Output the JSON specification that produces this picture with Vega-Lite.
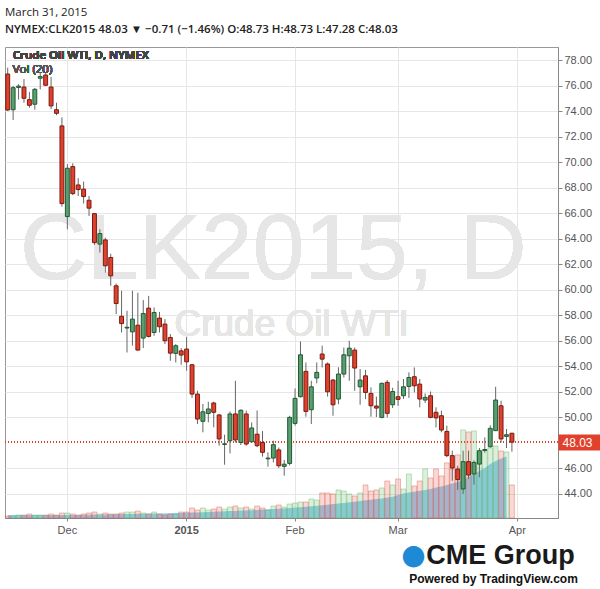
{
  "$schema": "https://vega.github.io/schema/vega-lite/v6.json",
  "autosize": "none",
  "width": 553,
  "height": 471,
  "padding": {"left": 5, "top": 47, "right": 42, "bottom": 71},
  "background": "white",
  "config": {
    "view": {"stroke": "#999", "strokeWidth": 1},
    "font": "Liberation Sans"
  },
  "title": {
    "text": "March 31, 2015",
    "subtitle": "NYMEX:CLK2015 48.03 ▼ −0.71 (−1.46%) O:48.73 H:48.73 L:47.28 C:48.03",
    "anchor": "start",
    "frame": "group",
    "font": "Open Sans",
    "fontSize": 11.5,
    "fontWeight": "normal",
    "color": "#222",
    "subtitleFont": "Open Sans",
    "subtitleFontSize": 11.5,
    "subtitleFontWeight": 600,
    "subtitleColor": "#222",
    "subtitlePadding": 5,
    "offset": 12
  },
  "data": {
    "values": [
      {"d":"2014-11-13","o":76.90,"h":77.40,"l":74.00,"c":74.08,"v":680,"ma":1020},
      {"d":"2014-11-14","o":74.10,"h":75.96,"l":73.30,"c":75.83,"v":680,"ma":1020},
      {"d":"2014-11-17","o":75.85,"h":76.10,"l":74.90,"c":75.95,"v":1020,"ma":1020},
      {"d":"2014-11-18","o":75.88,"h":76.50,"l":74.65,"c":75.00,"v":1020,"ma":1020},
      {"d":"2014-11-19","o":74.89,"h":75.50,"l":74.26,"c":74.45,"v":1360,"ma":1020},
      {"d":"2014-11-20","o":74.53,"h":75.80,"l":74.10,"c":75.70,"v":1020,"ma":1020},
      {"d":"2014-11-21","o":76.57,"h":77.00,"l":75.70,"c":76.70,"v":1020,"ma":1020},
      {"d":"2014-11-24","o":76.82,"h":77.05,"l":75.95,"c":76.02,"v":1020,"ma":1020},
      {"d":"2014-11-25","o":75.88,"h":76.67,"l":74.14,"c":74.40,"v":1360,"ma":1020},
      {"d":"2014-11-26","o":74.10,"h":74.65,"l":73.67,"c":73.82,"v":1020,"ma":1020},
      {"d":"2014-11-28","o":72.83,"h":73.50,"l":66.50,"c":66.74,"v":1700,"ma":1020},
      {"d":"2014-12-01","o":65.72,"h":69.83,"l":64.73,"c":69.51,"v":1700,"ma":1020},
      {"d":"2014-12-02","o":69.64,"h":69.90,"l":67.40,"c":67.52,"v":1360,"ma":1020},
      {"d":"2014-12-03","o":68.20,"h":68.73,"l":67.34,"c":67.84,"v":1020,"ma":1020},
      {"d":"2014-12-04","o":67.87,"h":68.46,"l":66.74,"c":67.29,"v":1360,"ma":1088},
      {"d":"2014-12-05","o":67.00,"h":67.34,"l":65.77,"c":66.38,"v":1700,"ma":1122},
      {"d":"2014-12-08","o":65.95,"h":66.00,"l":63.50,"c":63.68,"v":2040,"ma":1156},
      {"d":"2014-12-09","o":63.56,"h":64.73,"l":62.90,"c":64.39,"v":1360,"ma":1190},
      {"d":"2014-12-10","o":63.89,"h":64.07,"l":61.33,"c":61.86,"v":1700,"ma":1224},
      {"d":"2014-12-11","o":62.51,"h":62.80,"l":60.29,"c":61.07,"v":1360,"ma":1258},
      {"d":"2014-12-12","o":60.29,"h":60.47,"l":58.07,"c":58.90,"v":1360,"ma":1292},
      {"d":"2014-12-15","o":57.90,"h":59.90,"l":56.63,"c":57.33,"v":1700,"ma":1360},
      {"d":"2014-12-16","o":56.98,"h":58.33,"l":55.06,"c":57.04,"v":2040,"ma":1360},
      {"d":"2014-12-17","o":56.68,"h":59.90,"l":55.60,"c":57.68,"v":2040,"ma":1394},
      {"d":"2014-12-18","o":57.20,"h":59.75,"l":55.20,"c":55.25,"v":2380,"ma":1428},
      {"d":"2014-12-19","o":56.19,"h":59.17,"l":55.41,"c":58.12,"v":1700,"ma":1462},
      {"d":"2014-12-22","o":58.54,"h":59.50,"l":56.24,"c":56.32,"v":1360,"ma":1496},
      {"d":"2014-12-23","o":56.63,"h":58.59,"l":56.37,"c":58.20,"v":2040,"ma":1530},
      {"d":"2014-12-24","o":57.76,"h":58.24,"l":56.63,"c":57.08,"v":1360,"ma":1564},
      {"d":"2014-12-26","o":57.29,"h":57.68,"l":55.72,"c":55.98,"v":1020,"ma":1598},
      {"d":"2014-12-29","o":56.24,"h":56.50,"l":54.41,"c":55.01,"v":1360,"ma":1632},
      {"d":"2014-12-30","o":54.99,"h":55.72,"l":54.28,"c":55.59,"v":1360,"ma":1666},
      {"d":"2014-12-31","o":55.19,"h":55.41,"l":54.10,"c":54.86,"v":2040,"ma":1700},
      {"d":"2015-01-02","o":55.33,"h":56.29,"l":53.63,"c":54.33,"v":2040,"ma":1768},
      {"d":"2015-01-05","o":54.10,"h":54.15,"l":51.50,"c":51.80,"v":3400,"ma":1836},
      {"d":"2015-01-06","o":51.80,"h":52.06,"l":49.45,"c":49.84,"v":2720,"ma":1904},
      {"d":"2015-01-07","o":49.66,"h":51.02,"l":48.80,"c":50.41,"v":3400,"ma":1972},
      {"d":"2015-01-08","o":50.28,"h":51.20,"l":49.58,"c":50.63,"v":2720,"ma":2040},
      {"d":"2015-01-09","o":51.10,"h":51.20,"l":49.19,"c":50.37,"v":3060,"ma":2108},
      {"d":"2015-01-12","o":50.16,"h":50.24,"l":47.75,"c":48.28,"v":3740,"ma":2210},
      {"d":"2015-01-13","o":47.85,"h":48.61,"l":46.26,"c":47.90,"v":3060,"ma":2278},
      {"d":"2015-01-14","o":48.14,"h":50.44,"l":47.15,"c":50.24,"v":3740,"ma":2346},
      {"d":"2015-01-15","o":50.24,"h":52.84,"l":48.00,"c":48.20,"v":4080,"ma":2414},
      {"d":"2015-01-16","o":48.00,"h":50.60,"l":47.80,"c":50.53,"v":3400,"ma":2516},
      {"d":"2015-01-20","o":50.24,"h":50.50,"l":47.75,"c":47.88,"v":3740,"ma":2584},
      {"d":"2015-01-21","o":48.06,"h":49.58,"l":48.00,"c":49.14,"v":3060,"ma":2652},
      {"d":"2015-01-22","o":48.65,"h":50.51,"l":47.63,"c":47.75,"v":4080,"ma":2754},
      {"d":"2015-01-23","o":48.00,"h":48.90,"l":46.89,"c":47.23,"v":3400,"ma":2856},
      {"d":"2015-01-26","o":46.72,"h":47.23,"l":46.10,"c":46.78,"v":2720,"ma":2958},
      {"d":"2015-01-27","o":46.78,"h":48.14,"l":46.44,"c":47.83,"v":4080,"ma":3060},
      {"d":"2015-01-28","o":47.42,"h":47.60,"l":46.00,"c":46.18,"v":4420,"ma":3162},
      {"d":"2015-01-29","o":46.13,"h":46.63,"l":45.40,"c":46.30,"v":3740,"ma":3264},
      {"d":"2015-01-30","o":46.36,"h":50.10,"l":46.20,"c":49.97,"v":4760,"ma":3400},
      {"d":"2015-02-02","o":49.50,"h":52.24,"l":49.32,"c":51.46,"v":5100,"ma":3536},
      {"d":"2015-02-03","o":51.59,"h":55.92,"l":51.54,"c":54.88,"v":5440,"ma":3672},
      {"d":"2015-02-04","o":53.58,"h":54.28,"l":50.02,"c":50.44,"v":5440,"ma":3808},
      {"d":"2015-02-05","o":50.57,"h":52.84,"l":49.45,"c":52.37,"v":6460,"ma":3978},
      {"d":"2015-02-06","o":53.06,"h":54.28,"l":52.64,"c":53.50,"v":6120,"ma":4148},
      {"d":"2015-02-09","o":54.94,"h":55.59,"l":53.89,"c":54.54,"v":8500,"ma":4318},
      {"d":"2015-02-10","o":54.16,"h":54.28,"l":51.60,"c":51.98,"v":8500,"ma":4522},
      {"d":"2015-02-11","o":52.90,"h":52.98,"l":50.10,"c":50.96,"v":8160,"ma":4726},
      {"d":"2015-02-12","o":51.41,"h":53.90,"l":51.00,"c":53.37,"v":9520,"ma":4930},
      {"d":"2015-02-13","o":53.37,"h":55.45,"l":53.10,"c":54.88,"v":9180,"ma":5134},
      {"d":"2015-02-17","o":54.80,"h":55.98,"l":52.84,"c":55.40,"v":8160,"ma":5338},
      {"d":"2015-02-18","o":55.25,"h":55.45,"l":52.06,"c":53.84,"v":7480,"ma":5542},
      {"d":"2015-02-19","o":52.37,"h":53.76,"l":50.96,"c":52.90,"v":8500,"ma":5746},
      {"d":"2015-02-20","o":53.23,"h":53.70,"l":51.40,"c":51.93,"v":11220,"ma":6018},
      {"d":"2015-02-23","o":51.85,"h":52.32,"l":50.02,"c":50.88,"v":9180,"ma":6222},
      {"d":"2015-02-24","o":50.86,"h":51.60,"l":50.00,"c":50.70,"v":9520,"ma":6426},
      {"d":"2015-02-25","o":49.97,"h":52.70,"l":49.90,"c":52.64,"v":10200,"ma":6664},
      {"d":"2015-02-26","o":52.72,"h":52.90,"l":49.97,"c":50.29,"v":12580,"ma":6970},
      {"d":"2015-02-27","o":50.96,"h":52.30,"l":50.70,"c":52.00,"v":11220,"ma":7242},
      {"d":"2015-03-02","o":51.59,"h":52.84,"l":50.88,"c":51.38,"v":13260,"ma":7820},
      {"d":"2015-03-03","o":51.67,"h":52.98,"l":51.41,"c":52.37,"v":9860,"ma":8330},
      {"d":"2015-03-04","o":52.40,"h":53.50,"l":51.49,"c":53.10,"v":14960,"ma":8670},
      {"d":"2015-03-05","o":53.16,"h":53.89,"l":51.93,"c":52.45,"v":10880,"ma":8942},
      {"d":"2015-03-06","o":52.58,"h":52.98,"l":50.76,"c":51.41,"v":12580,"ma":9248},
      {"d":"2015-03-09","o":51.33,"h":51.85,"l":51.10,"c":51.54,"v":16660,"ma":9520},
      {"d":"2015-03-10","o":51.67,"h":52.00,"l":49.90,"c":49.97,"v":13600,"ma":9860},
      {"d":"2015-03-11","o":50.37,"h":50.76,"l":49.19,"c":49.93,"v":16660,"ma":10370},
      {"d":"2015-03-12","o":50.10,"h":50.50,"l":48.80,"c":48.98,"v":14280,"ma":10710},
      {"d":"2015-03-13","o":48.87,"h":49.32,"l":46.85,"c":46.97,"v":18700,"ma":11220},
      {"d":"2015-03-16","o":46.97,"h":47.36,"l":45.00,"c":46.00,"v":16660,"ma":11730},
      {"d":"2015-03-17","o":45.92,"h":46.18,"l":44.28,"c":45.09,"v":21420,"ma":12240},
      {"d":"2015-03-18","o":44.36,"h":47.36,"l":43.97,"c":46.50,"v":29920,"ma":12920},
      {"d":"2015-03-19","o":46.50,"h":47.36,"l":45.14,"c":45.45,"v":29240,"ma":13940},
      {"d":"2015-03-20","o":45.53,"h":46.60,"l":44.70,"c":46.44,"v":29580,"ma":14960},
      {"d":"2015-03-23","o":46.31,"h":47.57,"l":45.27,"c":47.36,"v":22440,"ma":15980},
      {"d":"2015-03-24","o":47.38,"h":48.40,"l":47.20,"c":47.45,"v":23120,"ma":17000},
      {"d":"2015-03-25","o":47.67,"h":49.35,"l":47.60,"c":49.11,"v":23800,"ma":18360},
      {"d":"2015-03-26","o":48.93,"h":52.37,"l":48.90,"c":51.33,"v":24480,"ma":19380},
      {"d":"2015-03-27","o":50.88,"h":51.28,"l":48.00,"c":48.28,"v":22780,"ma":20230},
      {"d":"2015-03-30","o":48.48,"h":49.06,"l":47.57,"c":48.61,"v":22440,"ma":20910},
      {"d":"2015-03-31","o":48.73,"h":48.73,"l":47.28,"c":48.03,"v":11220,"ma":null}
    ]
  },
  "layer": [
    {
      "mark": {"type": "text", "text": "CLK2015, D", "font": "Liberation Sans", "fontSize": 93, "color": "#e6e6e6", "align": "center", "baseline": "middle"},
      "encoding": {
        "x": {"datum": "2015-01-27", "type": "ordinal", "axis": null},
        "y": {"datum": 63.0, "type": "quantitative", "axis": null, "scale": {"domain": [42.08, 79.02], "nice": false, "zero": false}}
      }
    },
    {
      "mark": {"type": "text", "text": "Crude Oil WTI", "font": "Liberation Sans", "fontSize": 37, "color": "#e6e6e6", "align": "center", "baseline": "middle", "dx": 2},
      "encoding": {
        "x": {"datum": "2015-01-30", "type": "ordinal", "axis": null},
        "y": {"datum": 57.22, "type": "quantitative", "axis": null, "scale": {"domain": [42.08, 79.02], "nice": false, "zero": false}}
      }
    },
    {
      "mark": {"type": "area", "color": "#93cdf0", "opacity": 0.95},
      "encoding": {
        "x": {
          "field": "d",
          "type": "ordinal",
          "axis": {
            "orient": "bottom",
            "labels": false,
            "ticks": false,
            "domain": false,
            "grid": false,
            "title": "●",
            "titleFont": "DejaVu Sans",
            "titleFontSize": 28,
            "titleFontWeight": "normal",
            "titleColor": "#1e8ad6",
            "titleX": 408,
            "titleY": 37,
            "titleAlign": "center",
            "titleBaseline": "middle"
          },
          "scale": {
            "type": "band",
            "paddingInner": 0,
            "paddingOuter": 0,
            "domain": ["2014-11-13","2014-11-14","2014-11-17","2014-11-18","2014-11-19","2014-11-20","2014-11-21","2014-11-24","2014-11-25","2014-11-26","2014-11-28",
              "2014-12-01","2014-12-02","2014-12-03","2014-12-04","2014-12-05","2014-12-08","2014-12-09","2014-12-10","2014-12-11","2014-12-12","2014-12-15","2014-12-16","2014-12-17","2014-12-18","2014-12-19","2014-12-22","2014-12-23","2014-12-24","2014-12-26","2014-12-29","2014-12-30","2014-12-31",
              "2015-01-02","2015-01-05","2015-01-06","2015-01-07","2015-01-08","2015-01-09","2015-01-12","2015-01-13","2015-01-14","2015-01-15","2015-01-16","2015-01-20","2015-01-21","2015-01-22","2015-01-23","2015-01-26","2015-01-27","2015-01-28","2015-01-29","2015-01-30",
              "2015-02-02","2015-02-03","2015-02-04","2015-02-05","2015-02-06","2015-02-09","2015-02-10","2015-02-11","2015-02-12","2015-02-13","2015-02-17","2015-02-18","2015-02-19","2015-02-20","2015-02-23","2015-02-24","2015-02-25","2015-02-26","2015-02-27",
              "2015-03-02","2015-03-03","2015-03-04","2015-03-05","2015-03-06","2015-03-09","2015-03-10","2015-03-11","2015-03-12","2015-03-13","2015-03-16","2015-03-17","2015-03-18","2015-03-19","2015-03-20","2015-03-23","2015-03-24","2015-03-25","2015-03-26","2015-03-27","2015-03-30","2015-03-31",
              "2015-04-01","2015-04-02","2015-04-06","2015-04-07","2015-04-08","2015-04-09","2015-04-10","2015-04-13"]
          }
        },
        "y": {"field": "ma", "type": "quantitative", "axis": null, "scale": {"domain": [0, 160000], "nice": false}}
      }
    },
    {
      "mark": {"type": "bar", "fillOpacity": 0.2, "strokeOpacity": 0.35, "strokeWidth": 1, "width": {"band": 0.9}},
      "encoding": {
        "x": {
          "field": "d",
          "type": "ordinal",
          "axis": {
            "orient": "bottom",
            "labels": false,
            "ticks": false,
            "domain": false,
            "grid": false,
            "title": "Powered by TradingView.com",
            "titleFont": "Liberation Sans",
            "titleFontSize": 12,
            "titleFontWeight": "bold",
            "titleColor": "#111",
            "titleX": 488,
            "titleY": 60,
            "titleAlign": "center",
            "titleBaseline": "middle"
          }
        },
        "y": {"field": "v", "type": "quantitative", "axis": null, "scale": {"domain": [0, 160000], "nice": false}},
        "fill": {"condition": {"test": "datum.c >= datum.o", "value": "#4caf50"}, "value": "#e0412d"},
        "stroke": {"condition": {"test": "datum.c >= datum.o", "value": "#4caf50"}, "value": "#e0412d"}
      }
    },
    {
      "mark": {"type": "rule", "color": "#e0412d", "strokeDash": [1, 2], "strokeWidth": 1},
      "encoding": {
        "y": {"datum": 48.03, "type": "quantitative", "axis": null, "scale": {"domain": [42.08, 79.02], "nice": false, "zero": false}}
      }
    },
    {
      "mark": {"type": "rule", "color": "#666", "strokeWidth": 1},
      "encoding": {
        "x": {
          "field": "d",
          "type": "ordinal",
          "axis": {
            "orient": "bottom",
            "values": ["2014-12-01", "2015-01-02", "2015-02-02", "2015-03-02", "2015-04-01"],
            "labelExpr": "datum.value == '2014-12-01' ? 'Dec' : datum.value == '2015-01-02' ? '2015' : datum.value == '2015-02-02' ? 'Feb' : datum.value == '2015-03-02' ? 'Mar' : 'Apr'",
            "labelAngle": 0,
            "labelFont": "Liberation Sans",
            "labelFontSize": 11,
            "labelColor": "#555",
            "labelFontWeight": {"condition": {"test": "datum.value == '2015-01-02'", "value": "bold"}, "value": "normal"},
            "labelPadding": 3,
            "tickSize": 3,
            "tickColor": "#888",
            "domainColor": "#888",
            "grid": true,
            "gridColor": "#e6e6e6",
            "title": "CME Group",
            "titleFont": "Liberation Sans",
            "titleFontSize": 27,
            "titleFontWeight": "bold",
            "titleColor": "#1a1a1a",
            "titleX": 495,
            "titleY": 37,
            "titleAlign": "center",
            "titleBaseline": "middle"
          }
        },
        "y": {
          "field": "l",
          "type": "quantitative",
          "scale": {"domain": [42.08, 79.02], "nice": false, "zero": false},
          "axis": {
            "orient": "right",
            "values": [44, 46, 50, 52, 54, 56, 58, 60, 62, 64, 66, 68, 70, 72, 74, 76, 78],
            "format": ".2f",
            "title": null,
            "labelFont": "Liberation Sans",
            "labelFontSize": 11,
            "labelColor": "#555",
            "labelPadding": 2,
            "tickSize": 4,
            "tickColor": "#888",
            "domainColor": "#888",
            "grid": true,
            "gridColor": "#e6e6e6"
          }
        },
        "y2": {"field": "h"}
      }
    },
    {
      "mark": {"type": "bar", "strokeWidth": 1, "width": {"band": 0.72}},
      "encoding": {
        "x": {"field": "d", "type": "ordinal", "axis": null},
        "y": {
          "field": "o",
          "type": "quantitative",
          "scale": {"domain": [42.08, 79.02], "nice": false, "zero": false},
          "axis": {
            "orient": "right",
            "values": [48.03],
            "format": ".2f",
            "title": null,
            "grid": false,
            "domain": false,
            "tickSize": 42,
            "tickWidth": 16,
            "tickColor": "#e0412d",
            "labelColor": "white",
            "labelFont": "Liberation Sans",
            "labelFontSize": 12,
            "labelPadding": -38
          }
        },
        "y2": {"field": "c"},
        "fill": {"condition": {"test": "datum.c >= datum.o", "value": "#5a9e6f"}, "value": "#e0412d"},
        "stroke": {"condition": {"test": "datum.c >= datum.o", "value": "#1f5a33"}, "value": "#7a1a10"}
      }
    },
    {
      "mark": {"type": "text", "text": "Crude Oil WTI, D, NYMEX", "font": "Open Sans", "fontSize": 11.5, "fontWeight": 600, "color": "#444", "align": "left", "baseline": "middle", "dx": 5},
      "encoding": {
        "x": {"datum": "2014-11-13", "type": "ordinal", "axis": null},
        "y": {"datum": 78.3, "type": "quantitative", "axis": null, "scale": {"domain": [42.08, 79.02], "nice": false, "zero": false}}
      }
    },
    {
      "mark": {"type": "text", "text": "Vol (20)", "font": "Open Sans", "fontSize": 11.5, "color": "#555", "align": "left", "baseline": "middle", "dx": 5},
      "encoding": {
        "x": {"datum": "2014-11-13", "type": "ordinal", "axis": null},
        "y": {"datum": 77.18, "type": "quantitative", "axis": null, "scale": {"domain": [42.08, 79.02], "nice": false, "zero": false}}
      }
    }
  ],
  "resolve": {
    "scale": {"y": "independent"},
    "axis": {"x": "independent", "y": "independent"}
  }
}
